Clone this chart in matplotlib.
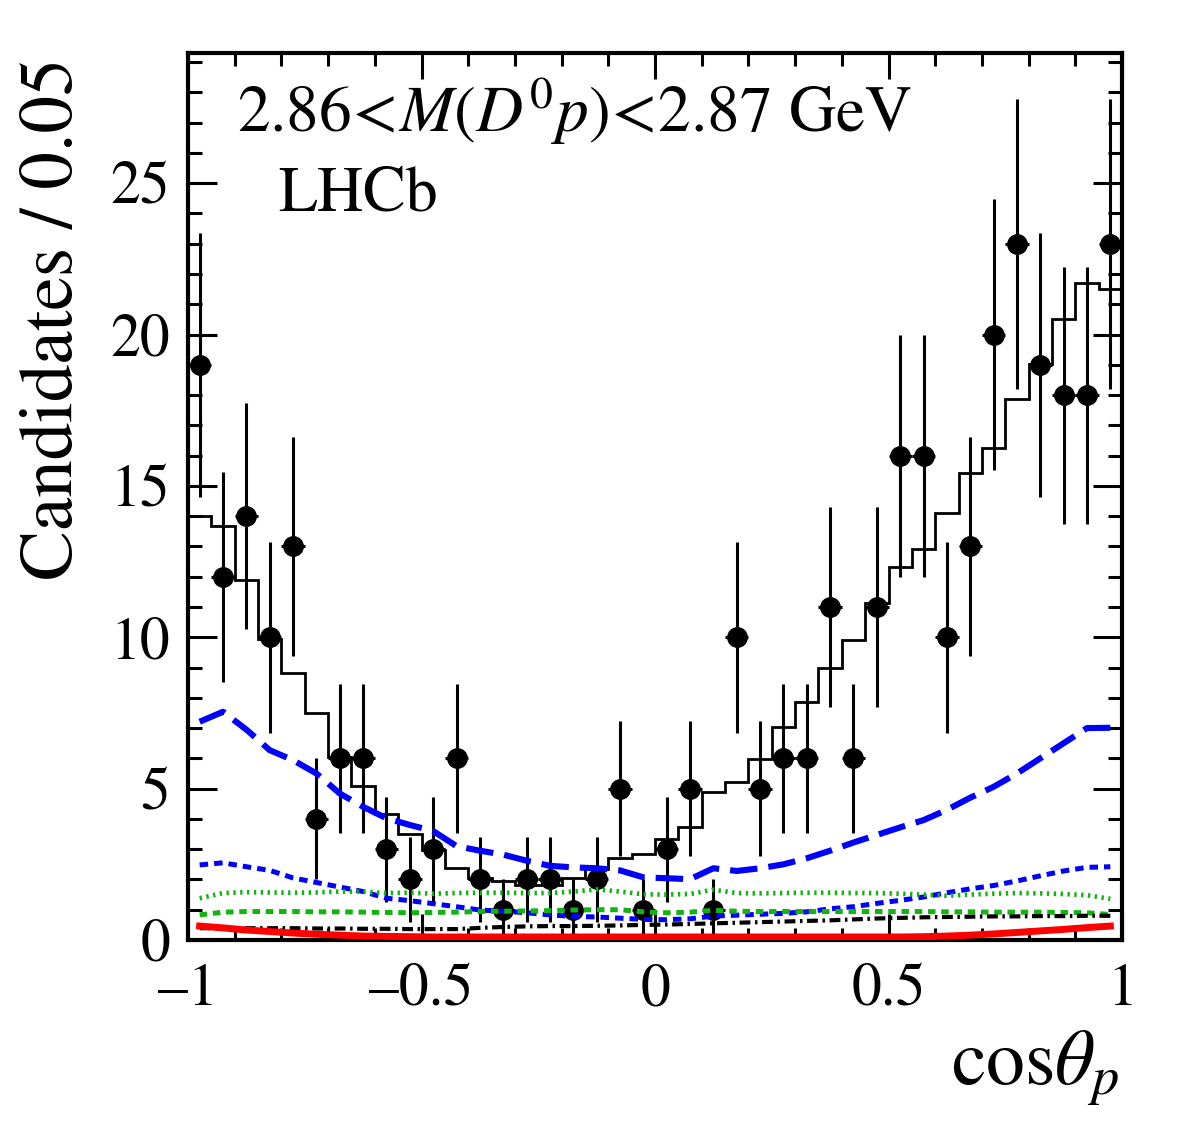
import numpy as np
import matplotlib
matplotlib.use("Agg")
import matplotlib.pyplot as plt
from matplotlib.ticker import MultipleLocator, FixedLocator, FixedFormatter

plt.rcParams['font.family'] = 'STIXGeneral'
plt.rcParams['mathtext.fontset'] = 'stix'

# binning: 40 bins of 0.05 in cos(theta_p)
edges = np.linspace(-1, 1, 41)
centers = 0.5 * (edges[:-1] + edges[1:])

# data points (candidates per bin)
counts = np.array([19, 12, 14, 10, 13, 4, 6, 6, 3, 2,
                   3, 6, 2, 1, 2, 2, 1, 2, 5, 1,
                   3, 5, 1, 10, 5, 6, 6, 11, 6, 11,
                   16, 16, 10, 13, 20, 23, 19, 18, 18, 23])

# total fit (step histogram)
total = np.array([14.0, 13.67, 11.9, 9.94, 8.83, 7.5, 6.05, 5.09, 4.16, 3.5,
                  2.97, 2.37, 2.04, 1.96, 1.82, 1.82, 2.04, 2.35, 2.7, 2.84,
                  3.33, 3.74, 4.9, 5.23, 5.97, 7.02, 7.87, 9.0, 9.9, 11.14,
                  12.33, 12.9, 14.11, 15.41, 16.24, 17.86, 19.02, 20.5, 21.69, 21.52])

# components, evaluated at bin centres
blue_dashed = np.array([7.21, 7.54, 6.95, 6.27, 5.94, 5.5, 4.84, 4.4, 4.02, 3.8,
                        3.6, 3.1, 2.95, 2.82, 2.62, 2.45, 2.4, 2.37, 2.3, 2.07,
                        2.04, 2.01, 2.37, 2.28, 2.37, 2.5, 2.7, 2.95, 3.22, 3.47,
                        3.72, 3.96, 4.3, 4.7, 5.06, 5.5, 6.0, 6.5, 7.0, 7.01])
blue_dotted = np.array([2.48, 2.55, 2.42, 2.3, 2.05, 1.9, 1.75, 1.6, 1.38, 1.3,
                        1.2, 1.1, 0.99, 0.95, 0.9, 0.83, 0.78, 0.76, 0.72, 0.68,
                        0.67, 0.7, 0.79, 0.82, 0.85, 0.88, 0.93, 1.03, 1.1, 1.21,
                        1.31, 1.42, 1.56, 1.69, 1.8, 1.95, 2.12, 2.28, 2.4, 2.42])
green_dotted = np.array([1.38, 1.55, 1.58, 1.57, 1.56, 1.57, 1.6, 1.6, 1.55, 1.56,
                         1.53, 1.55, 1.56, 1.56, 1.55, 1.55, 1.6, 1.67, 1.6, 1.51,
                         1.5, 1.52, 1.66, 1.55, 1.54, 1.55, 1.56, 1.56, 1.55, 1.55,
                         1.53, 1.5, 1.46, 1.5, 1.53, 1.55, 1.54, 1.52, 1.48, 1.36])
green_dashed = np.array([0.83, 0.92, 0.94, 0.94, 0.94, 0.93, 0.93, 0.92, 0.91, 0.9,
                         0.91, 0.92, 0.94, 0.95, 0.96, 0.97, 0.99, 1.0, 1.0, 0.93,
                         0.9, 0.92, 0.98, 0.95, 0.94, 0.94, 0.94, 0.94, 0.94, 0.94,
                         0.94, 0.94, 0.93, 0.93, 0.92, 0.92, 0.92, 0.91, 0.9, 0.84])
black_dashdot = np.array([0.39, 0.39, 0.39, 0.39, 0.39, 0.38, 0.38, 0.37, 0.37, 0.36,
                          0.36, 0.36, 0.4, 0.43, 0.45, 0.46, 0.46, 0.47, 0.48, 0.5,
                          0.51, 0.53, 0.55, 0.57, 0.59, 0.61, 0.63, 0.65, 0.68, 0.71,
                          0.73, 0.75, 0.76, 0.77, 0.78, 0.78, 0.79, 0.79, 0.8, 0.8])
red_solid = np.array([0.46, 0.4, 0.33, 0.28, 0.23, 0.19, 0.16, 0.13, 0.12, 0.11,
                      0.1, 0.1, 0.1, 0.1, 0.1, 0.1, 0.1, 0.1, 0.1, 0.1,
                      0.1, 0.1, 0.1, 0.1, 0.1, 0.1, 0.1, 0.1, 0.1, 0.1,
                      0.1, 0.11, 0.13, 0.16, 0.2, 0.25, 0.3, 0.35, 0.41, 0.46])

xtick_vals = [-1, -0.5, 0, 0.5, 1]
xtick_labels = ['\u20131', '\u20130.5', '0', '0.5', '1']

fig = plt.figure(figsize=(11.82, 11.21), dpi=100)
ax = fig.add_axes([188 / 1182, 181 / 1121, 934 / 1182, 887 / 1121])

# data with sqrt(N) errors
ax.errorbar(centers, counts, yerr=np.sqrt(counts), xerr=0.025, fmt='o', color='k',
            ms=14, elinewidth=2.2, capsize=0, zorder=2)

# total fit
ax.stairs(total, edges, baseline=None, color='k', lw=2.0, zorder=3)

# components
ax.plot(centers, blue_dashed, color='#0000ff', lw=4.4, dashes=(4.5, 1.8), zorder=4)
ax.plot(centers, blue_dotted, color='#0000ff', lw=3.6, dashes=(1.7, 1.2), zorder=4)
ax.plot(centers, green_dotted, color='#12b312', lw=3.4, dashes=(0.5, 0.95), zorder=4)
ax.plot(centers, green_dashed, color='#12b312', lw=3.6, dashes=(1.5, 1.15), zorder=4)
ax.plot(centers, black_dashdot, color='k', lw=3.0, dashes=(2.6, 1.1, 0.6, 1.1), zorder=4)
ax.plot(centers, red_solid, color='#ff0000', lw=5.0, zorder=5)

ax.set_xlim(-1, 1)
ax.set_ylim(0, 29.3)

ax.xaxis.set_major_locator(FixedLocator(xtick_vals))
ax.xaxis.set_major_formatter(FixedFormatter(xtick_labels))
ax.xaxis.set_minor_locator(MultipleLocator(0.1))
ax.yaxis.set_major_locator(MultipleLocator(5))
ax.yaxis.set_minor_locator(MultipleLocator(1))

ax.tick_params(which='both', direction='in', top=True, right=True, width=2.2,
               labelsize=43)
ax.tick_params(axis='x', which='major', length=19, pad=17)
ax.tick_params(axis='x', which='minor', length=9)
ax.tick_params(axis='y', which='major', length=21, pad=13)
ax.tick_params(axis='y', which='minor', length=10)
for s in ax.spines.values():
    s.set_linewidth(3)

fig.text(55 / 1182, 1 - 58 / 1121, 'Candidates / 0.05', rotation=90,
         ha='center', va='top', fontsize=54)
fig.text(1120 / 1182, 1 - 1085 / 1121, r'$\mathrm{cos}\theta_{p}$',
         ha='right', va='baseline', fontsize=56)

ax.text(-0.895, 26.7, r'$2.86\!<\!M(D^{0}p)\!<\!2.87$ GeV', fontsize=47,
        va='baseline', ha='left')
ax.text(-0.807, 24.1, 'LHCb', fontsize=46, va='baseline', ha='left')

fig.savefig('out.png', dpi=100)
